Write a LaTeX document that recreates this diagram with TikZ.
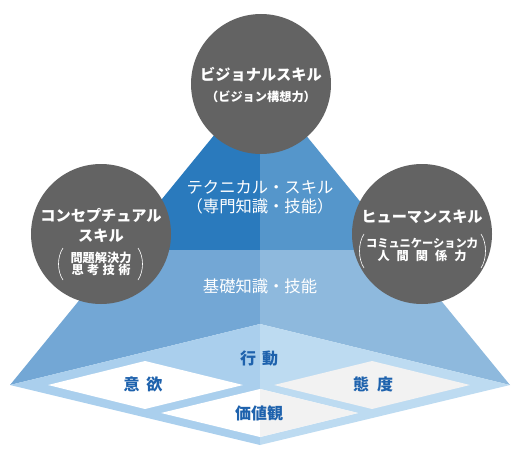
\documentclass[tikz,border=0pt]{standalone}
\usepackage{fontspec}
\setmainfont{Noto Sans CJK JP}
\usepackage{tikz}
\usetikzlibrary{calc, positioning}

\definecolor{techL}{HTML}{2A7ABD}
\definecolor{techR}{HTML}{5596CB}
\definecolor{baseL}{HTML}{73A7D5}
\definecolor{baseR}{HTML}{8EB9DD}
\definecolor{floorL}{HTML}{AACFED}
\definecolor{floorR}{HTML}{BDDBF1}
\definecolor{circgray}{HTML}{636363}
\definecolor{softgray}{HTML}{F2F2F2}
\definecolor{labelblue}{HTML}{1E62AD}

\begin{document}
\begin{tikzpicture}[x=1pt,y=-1pt,
    skill/.style={circle, fill=circgray, minimum size=140pt, inner sep=0pt},
    skilltitle/.style={text=white, inner sep=0pt, font=\fontsize{15.2}{17}\selectfont\bfseries},
    skillsub/.style={text=white, inner sep=0pt, align=center, font=\fontsize{12.2}{14}\selectfont\bfseries},
    layertext/.style={text=white, inner sep=0pt, font=\fontsize{16.3}{19}\selectfont},
    floortext/.style={text=labelblue, inner sep=0pt, font=\fontsize{16}{18}\selectfont\bfseries},
    paren/.style={draw=white, line width=0.6pt}]
\useasboundingbox (0,0) rectangle (516,460);

% pyramid corners
\coordinate (apex) at (260,79);
\coordinate (cutL) at (120.3,250);
\coordinate (cutM) at (260,250);
\coordinate (cutR) at (399.7,250);
\coordinate (baseW) at (10,385);
\coordinate (baseN) at (260,324);
\coordinate (baseE) at (510,385);
\coordinate (baseS) at (260,445);

% faces
\fill[techL] (apex) -- (cutL) -- (cutM) -- cycle;
\fill[techR] (apex) -- (cutM) -- (cutR) -- cycle;
\fill[baseL] (cutL) -- (baseW) -- (baseN) -- (cutM) -- cycle;
\fill[baseR] (cutM) -- (baseN) -- (baseE) -- (cutR) -- cycle;
\fill[floorL] (baseW) -- (baseN) -- (baseS) -- cycle;
\fill[floorR] (baseN) -- (baseE) -- (baseS) -- cycle;

% inner diamonds
\fill[white] (48,385) -- (145,361) -- (243,385) -- (145,409) -- cycle;
\fill[softgray] (274,385) -- (372,361) -- (470,385) -- (372,409) -- cycle;
\fill[white] (161,413) -- (260,389) -- (358,413) -- (260,437) -- cycle;
\fill[softgray] (260,389) -- (358,413) -- (260,437) -- cycle;

% layer labels
\node[layertext] (tech) at (260,187) {テクニカル・スキル};
\node[layertext] (techsub) at (260,206) {（専門知識・技能）};
\node[layertext] (basic) at (260,286) {基礎知識・技能};

\node[floortext] (action) at (259,358) {\makebox[38pt][s]{行\hfill 動}};
\node[floortext] (will) at (143,384) {\makebox[39pt][s]{意\hfill 欲}};
\node[floortext] (attitude) at (373,384) {\makebox[40pt][s]{態\hfill 度}};
\node[floortext] (values) at (259,413) {価値観};

% skill circles
\node[skill] (vision) at (261,84) {};
\node[skilltitle] (visiont) at (261,75) {ビジョナルスキル};
\node[skillsub] (visions) at (261,97) {（ビジョン構想力）};

\node[skill] (concept) at (101,234) {};
\node[skilltitle] (conceptt) at (101,215) {コンセプチュアル};
\node[skilltitle] (conceptu) at (101,236) {スキル};
\node[skillsub] (concepts) at (101,264)
  {問題解決力\\[-1.5pt]\makebox[59pt][s]{思\hfill 考\hfill 技\hfill 術}};
\draw[paren] (63,248) .. controls (57,257) and (57,271) .. (63,280);
\draw[paren] (138,248) .. controls (144,257) and (144,271) .. (138,280);

\node[skill] (human) at (422,234) {};
\node[skilltitle] (humant) at (422,217) {ヒューマンスキル};
\node[skillsub] (humans) at (422,250)
  {{\fontsize{11.2}{13}\selectfont コミュニケーション力}\\[-1pt]\makebox[89pt][s]{人\hfill 間\hfill 関\hfill 係\hfill 力}};
\draw[paren] (364,234) .. controls (358,243) and (358,259) .. (364,268);
\draw[paren] (481,234) .. controls (487,243) and (487,259) .. (481,268);
\end{tikzpicture}
\end{document}
